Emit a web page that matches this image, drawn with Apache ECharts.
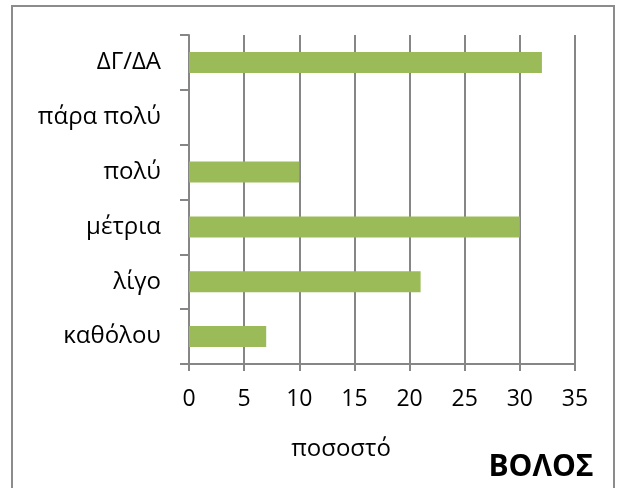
<!DOCTYPE html>
<html>
<head>
<meta charset="utf-8">
<script src="https://cdn.jsdelivr.net/npm/echarts@6/dist/echarts.min.js"></script>
<style>
  html, body { margin: 0; padding: 0; background: #fff; }
  #chart { width: 624px; height: 488px; }
</style>
</head>
<body>
<div id="chart"></div>
<script>
// data
const categories = ['καθόλου', 'λίγο', 'μέτρια', 'πολύ', 'πάρα πολύ', 'ΔΓ/ΔΑ'];
const percentages = [7, 21, 30, 10, null, 32];
const xTicks = [0, 5, 10, 15, 20, 25, 30, 35];

const font = '"Open Sans", "Liberation Sans", sans-serif';
const chart = echarts.init(document.getElementById('chart'));

chart.setOption({
    animation: false,
    backgroundColor: '#ffffff',
    grid: { left: 189, right: 49, top: 35, bottom: 124 },
    graphic: [
        {
            type: 'rect',
            shape: { x: 12, y: 6, width: 602, height: 490 },
            style: { fill: 'none', stroke: '#8c8c8c', lineWidth: 2 },
            silent: true
        },
        {
            type: 'text',
            x: 341,
            y: 449,
            style: { text: 'ποσοστό', font: '24px ' + font, fill: '#000', align: 'center', verticalAlign: 'middle' }
        },
        {
            type: 'text',
            x: 541,
            y: 467,
            style: { text: 'ΒΟΛΟΣ', font: 'bold 30px ' + font, fill: '#000', align: 'center', verticalAlign: 'middle' }
        }
    ],
    xAxis: {
        type: 'value',
        min: xTicks[0],
        max: xTicks[xTicks.length - 1],
        interval: 5,
        axisLine: { show: true, lineStyle: { color: '#868686', width: 2 } },
        axisTick: { show: true, length: 7, lineStyle: { color: '#868686', width: 2 } },
        axisLabel: { margin: 24, fontFamily: font, fontSize: 23, color: '#000' },
        splitLine: { show: true, lineStyle: { color: '#868686', width: 2 } }
    },
    yAxis: {
        type: 'category',
        data: categories,
        axisLine: { show: true, lineStyle: { color: '#868686', width: 2 } },
        axisTick: { show: true, length: 9, lineStyle: { color: '#868686', width: 2 } },
        axisLabel: { margin: 28, fontFamily: font, fontSize: 24, color: '#000' },
        splitLine: { show: false }
    },
    series: [{
        type: 'bar',
        data: percentages,
        barWidth: 21,
        itemStyle: { color: '#9bbb59' },
        silent: true
    }]
});
</script>
</body>
</html>
